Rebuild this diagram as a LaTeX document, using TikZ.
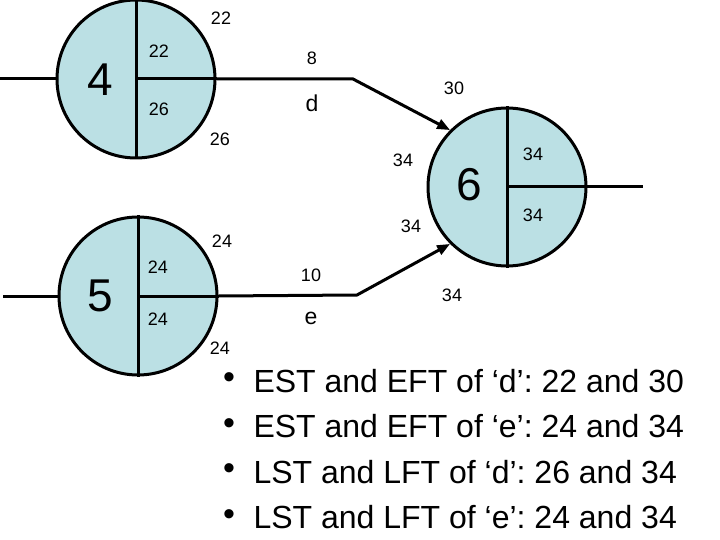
\documentclass[tikz,border=0pt]{standalone}
\usepackage{fontspec}
\setmainfont{Liberation Sans}
\usetikzlibrary{arrows.meta}
\definecolor{eventfill}{RGB}{187,224,228}
\frenchspacing

\begin{document}
\begin{tikzpicture}[x=1pt, y=-1pt, line width=3pt,
    event/.style={circle, draw, fill=eventfill, minimum size=158pt, inner sep=0pt},
    num/.style={inner sep=0pt, font=\fontsize{18}{20}\selectfont},
    big/.style={inner sep=0pt, font=\fontsize{46}{50}\selectfont},
    act/.style={inner sep=0pt, font=\fontsize{23}{26}\selectfont},
    dot/.style={inner sep=0pt, font=\fontsize{34}{36}\selectfont},
    line/.style={inner sep=0pt, anchor=west, font=\fontsize{32}{36}\selectfont}]
    \useasboundingbox (0,0) rectangle (720,540);
    \path
        (136, 79) node[event] (e4){}
        (138, 296) node[event] (e5){}
        (507, 187) node[event] (e6){};
    \coordinate (in4) at (0, 79);
    \coordinate (in5) at (3, 296);
    \coordinate (bend4) at (353, 79);
    \coordinate (bend5) at (357, 295);
    \coordinate (out6) at (643, 187);
    \begin{scope}[-]
        \draw (e4.north) to (e4.south);
        \draw (e4.center) to (e4.east);
        \draw (e5.north) to (e5.south);
        \draw (e5.center) to (e5.east);
        \draw (e6.north) to (e6.south);
        \draw (e6.center) to (e6.east);
        \draw (in4) to (e4.west);
        \draw (in5) to (e5.west);
        \draw (e6.east) to (out6);
    \end{scope}
    \begin{scope}[-{Triangle[length=13pt, width=10pt]}]
        \draw (e4.east) -- (bend4) -- (e6.135);
        \draw (e5.east) -- (bend5) -- (e6.225);
    \end{scope}
    % event numbers
    \node[big] (n4) at (100, 80) {4};
    \node[big] (n5) at (100, 296) {5};
    \node[big] (n6) at (469, 185) {6};
    % times round event 4
    \node[num] (t4a) at (221, 18) {22};
    \node[num] (t4b) at (159, 51) {22};
    \node[num] (t4c) at (159, 109) {26};
    \node[num] (t4d) at (220, 139) {26};
    % times round event 5
    \node[num] (t5a) at (222, 241) {24};
    \node[num] (t5b) at (158, 267) {24};
    \node[num] (t5c) at (158, 319) {24};
    \node[num] (t5d) at (220, 348) {24};
    % times round event 6
    \node[num] (t6a) at (454, 88) {30};
    \node[num] (t6b) at (403, 160) {34};
    \node[num] (t6c) at (533, 154) {34};
    \node[num] (t6d) at (533, 215) {34};
    \node[num] (t6e) at (411, 226) {34};
    \node[num] (t6f) at (452, 295) {34};
    % activities
    \node[num] (dur-d) at (312, 58) {8};
    \node[act] (name-d) at (312, 103) {d};
    \node[num] (dur-e) at (311, 275) {10};
    \node[act] (name-e) at (311, 318) {e};
    % bullet list
    \foreach \i/\txt in {0/{EST and EFT of ‘d’: 22 and 30},
                         1/{EST and EFT of ‘e’: 24 and 34},
                         2/{LST and LFT of ‘d’: 26 and 34},
                         3/{LST and LFT of ‘e’: 24 and 34}} {
        \node[dot] (dot\i) at (229, 381+45.5*\i) {•};
        \node[line] (line\i) at (252, 381+45.5*\i) {\txt};
    }
\end{tikzpicture}
\end{document}
